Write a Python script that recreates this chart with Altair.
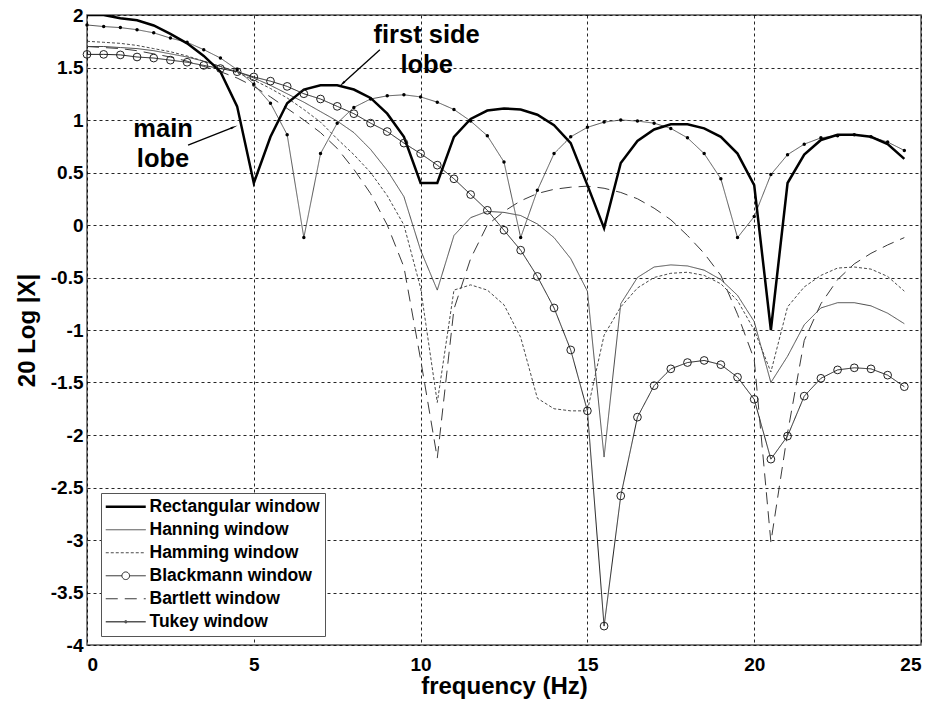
import math
import altair as alt
import pandas as pd

# ---------------- data ----------------
freq = [0.0, 0.5, 1.0, 1.5, 2.0, 2.5, 3.0, 3.5, 4.0, 4.5,
        5.0, 5.5, 6.0, 6.5, 7.0, 7.5, 8.0, 8.5, 9.0, 9.5,
        10.0, 10.5, 11.0, 11.5, 12.0, 12.5, 13.0, 13.5, 14.0, 14.5,
        15.0, 15.5, 16.0, 16.5, 17.0, 17.5, 18.0, 18.5, 19.0, 19.5,
        20.0, 20.5, 21.0, 21.5, 22.0, 22.5, 23.0, 23.5, 24.0, 24.5]

rectangular = [2.00, 2.00, 1.97, 1.95, 1.90, 1.82, 1.73, 1.61, 1.46, 1.13,
               0.40, 0.84, 1.16, 1.29, 1.33, 1.33, 1.29, 1.21, 1.06, 0.84,
               0.40, 0.40, 0.84, 1.01, 1.09, 1.11, 1.10, 1.05, 0.95, 0.78,
               0.38, -0.03, 0.59, 0.80, 0.91, 0.96, 0.96, 0.92, 0.84, 0.68,
               0.38, -1.00, 0.40, 0.67, 0.81, 0.86, 0.86, 0.84, 0.77, 0.63]

hanning = [1.70, 1.70, 1.69, 1.68, 1.66, 1.63, 1.60, 1.56, 1.51, 1.46,
           1.40, 1.33, 1.25, 1.17, 1.08, 0.99, 0.88, 0.72, 0.52, 0.27,
           -0.24, -0.62, -0.10, 0.07, 0.13, 0.12, 0.09, 0.01, -0.12, -0.32,
           -0.63, -2.21, -0.75, -0.50, -0.40, -0.38, -0.39, -0.43, -0.52, -0.67,
           -0.92, -1.50, -1.25, -0.95, -0.79, -0.74, -0.74, -0.77, -0.84, -0.94]

hamming = [1.75, 1.74, 1.73, 1.71, 1.68, 1.65, 1.61, 1.56, 1.51, 1.45,
           1.38, 1.30, 1.21, 1.10, 0.98, 0.82, 0.67, 0.50, 0.28, 0.00,
           -0.60, -1.69, -0.62, -0.57, -0.62, -0.76, -1.07, -1.65, -1.75, -1.77,
           -1.77, -1.05, -0.78, -0.60, -0.50, -0.46, -0.45, -0.48, -0.56, -0.72,
           -1.00, -1.40, -0.78, -0.59, -0.48, -0.41, -0.40, -0.42, -0.49, -0.63]

blackmann = [1.625, 1.625, 1.62, 1.60, 1.59, 1.57, 1.55, 1.52, 1.49, 1.46,
             1.41, 1.37, 1.32, 1.25, 1.20, 1.13, 1.06, 0.97, 0.89, 0.78,
             0.68, 0.57, 0.44, 0.29, 0.14, -0.05, -0.24, -0.49, -0.79, -1.19,
             -1.77, -3.82, -2.58, -1.83, -1.53, -1.37, -1.31, -1.29, -1.33, -1.45,
             -1.66, -2.23, -2.01, -1.63, -1.46, -1.38, -1.36, -1.37, -1.43, -1.54]

bartlett = [1.70, 1.69, 1.68, 1.66, 1.63, 1.60, 1.56, 1.51, 1.46, 1.40,
            1.32, 1.22, 1.11, 1.00, 0.88, 0.73, 0.53, 0.30, 0.00, -0.40,
            -1.28, -2.22, -0.80, -0.32, 0.00, 0.13, 0.23, 0.30, 0.34, 0.36,
            0.37, 0.35, 0.31, 0.25, 0.16, 0.05, -0.10, -0.27, -0.48, -0.85,
            -1.28, -3.02, -1.98, -1.10, -0.75, -0.52, -0.37, -0.27, -0.19, -0.12]

tukey = [1.905, 1.89, 1.88, 1.86, 1.83, 1.78, 1.74, 1.67, 1.59, 1.48,
         1.34, 1.16, 0.86, -0.12, 0.68, 0.97, 1.12, 1.20, 1.23, 1.24,
         1.22, 1.17, 1.10, 0.99, 0.85, 0.60, -0.12, 0.33, 0.68, 0.84,
         0.93, 0.98, 1.00, 0.99, 0.97, 0.92, 0.83, 0.68, 0.44, -0.12,
         0.08, 0.48, 0.67, 0.77, 0.83, 0.85, 0.86, 0.84, 0.79, 0.71]

window_names = ["Rectangular window", "Hanning window", "Hamming window",
                "Blackmann window", "Bartlett window", "Tukey window"]
series = [rectangular, hanning, hamming, blackmann, bartlett, tukey]

x_ticks = [0, 5, 10, 15, 20, 25]
y_ticks = [2, 1.5, 1, 0.5, 0, -0.5, -1, -1.5, -2, -2.5, -3, -3.5, -4]

# annotations: label, text anchor (f, dB), arrow start, arrow tip
ann_labels = ["main\nlobe", "first side\nlobe"]
ann_f = [2.28, 10.18]
ann_v = [0.84, 1.73]
arrow_f1 = [3.03, 8.78]
arrow_v1 = [0.76, 1.67]
arrow_f2 = [4.38, 7.67]
arrow_v2 = [0.93, 1.35]

# ---------------- build tables ----------------
rows = []
for name, vals in zip(window_names, series):
    for f, v in zip(freq, vals):
        rows.append({"window": name, "f": f, "v": v})
df = pd.DataFrame(rows)

W, H = 834, 630
px_x = W / 25.0
px_y = H / 6.0
angles = []
for a, b, c, d in zip(arrow_f1, arrow_v1, arrow_f2, arrow_v2):
    dx = (c - a) * px_x
    dy = -(d - b) * px_y
    ang = math.degrees(math.atan2(dx, -dy)) % 360
    angles.append(ang)

ann_df = pd.DataFrame({"f": ann_f, "v": ann_v, "label": ann_labels})
arr_df = pd.DataFrame({"f1": arrow_f1, "v1": arrow_v1, "f2": arrow_f2,
                       "v2": arrow_v2, "ang": angles})

FONT = "Liberation Sans"

xs = alt.Scale(domain=[0, 25], nice=False, zero=False)
ys = alt.Scale(domain=[-4, 2], nice=False, zero=False)

x_enc = alt.X("f:Q", scale=xs,
              axis=alt.Axis(values=x_ticks, title="frequency (Hz)",
                            labelPadding=10, titlePadding=0))
y_enc = alt.Y("v:Q", scale=ys,
              axis=alt.Axis(values=y_ticks, title="20 Log |X|",
                            labelExpr="datum.value + ''",
                            labelPadding=4, titlePadding=11))

colors = ["#000000", "#4a4a4a", "#4a4a4a", "#202020", "#3a3a3a", "#555555"]
dashes = [[1, 0], [1, 0], [3, 2], [1, 0], [12, 7], [1, 0]]

shape_expr = ("datum.value === 'Blackmann window' ? "
              "'M-2,0H-0.38M0.38,0H2M0.38,0A0.38,0.38 0 1 1 -0.38,0A0.38,0.38 0 1 1 0.38,0' : "
              "(datum.value === 'Tukey window' ? "
              "'M-2,0H2M0.1,0A0.1,0.1 0 1 1 -0.1,0A0.1,0.1 0 1 1 0.1,0' : 'M-2,0H2')")
sw_expr = "datum.value === 'Rectangular window' ? 2.5 : (datum.value === 'Tukey window' ? 1.3 : 1)"

legend = alt.Legend(
    title=None, orient="none", legendX=14, legendY=478,
    fillColor="white", strokeColor="#555555", padding=5,
    labelFont=FONT, labelFontWeight="bold", labelFontSize=17.5,
    labelColor="black", labelLimit=400,
    symbolSize=400, symbolOffset=11, labelOffset=15, rowPadding=4,
    symbolType=alt.ExprRef(expr=shape_expr),
    symbolStrokeWidth=alt.ExprRef(expr=sw_expr),
)

base = alt.Chart(df)

thin = base.transform_filter(alt.datum.window != "Rectangular window").mark_line(
    clip=True, strokeWidth=1).encode(
    x=x_enc, y=y_enc,
    color=alt.Color("window:N", sort=window_names,
                    scale=alt.Scale(domain=window_names, range=colors),
                    legend=legend),
    strokeDash=alt.StrokeDash("window:N", sort=window_names,
                              scale=alt.Scale(domain=window_names, range=dashes),
                              legend=legend),
)

thick = base.transform_filter(alt.datum.window == "Rectangular window").mark_line(
    clip=True, strokeWidth=2.5, color="black").encode(x=x_enc, y=y_enc)

circles = base.transform_filter(alt.datum.window == "Blackmann window").mark_point(
    shape="circle", size=60, filled=False, stroke="#202020", strokeWidth=1,
    opacity=1).encode(x=x_enc, y=y_enc)

dots = base.transform_filter(alt.datum.window == "Tukey window").mark_point(
    shape="circle", size=12, filled=True, fill="black", opacity=1).encode(
    x=x_enc, y=y_enc)

texts = alt.Chart(ann_df).mark_text(
    font=FONT, fontWeight="bold", fontSize=25.5, lineHeight=30,
    align="center", baseline="alphabetic", lineBreak="\n", color="black").encode(
    x=alt.X("f:Q", scale=xs), y=alt.Y("v:Q", scale=ys), text="label:N")

arrows = alt.Chart(arr_df).mark_rule(color="black", strokeWidth=1.3).encode(
    x=alt.X("f1:Q", scale=xs), y=alt.Y("v1:Q", scale=ys),
    x2="f2:Q", y2="v2:Q")

heads = alt.Chart(arr_df).mark_point(
    shape="wedge", size=70, filled=True, fill="black", opacity=1).encode(
    x=alt.X("f2:Q", scale=xs), y=alt.Y("v2:Q", scale=ys),
    angle=alt.Angle("ang:Q", scale=None))

chart = alt.layer(thin, thick, circles, dots, arrows, heads, texts).properties(
    width=W, height=H,
    padding={"left": 87, "top": 15, "right": 14, "bottom": 59},
    autosize=alt.AutoSizeParams(type="none"),
    background="white",
).configure_view(
    stroke="#555555", strokeWidth=1.5
).configure_axis(
    labelFont=FONT, labelFontWeight="bold", labelFontSize=19, labelColor="black",
    titleFont=FONT, titleFontWeight="bold", titleFontSize=24, titleColor="black",
    grid=True, gridColor="black", gridDash=[3, 3], gridWidth=1, gridOpacity=0.85,
    domain=False, ticks=False,
)

chart.save("out.html", embed_options={"renderer": "svg", "actions": False})
